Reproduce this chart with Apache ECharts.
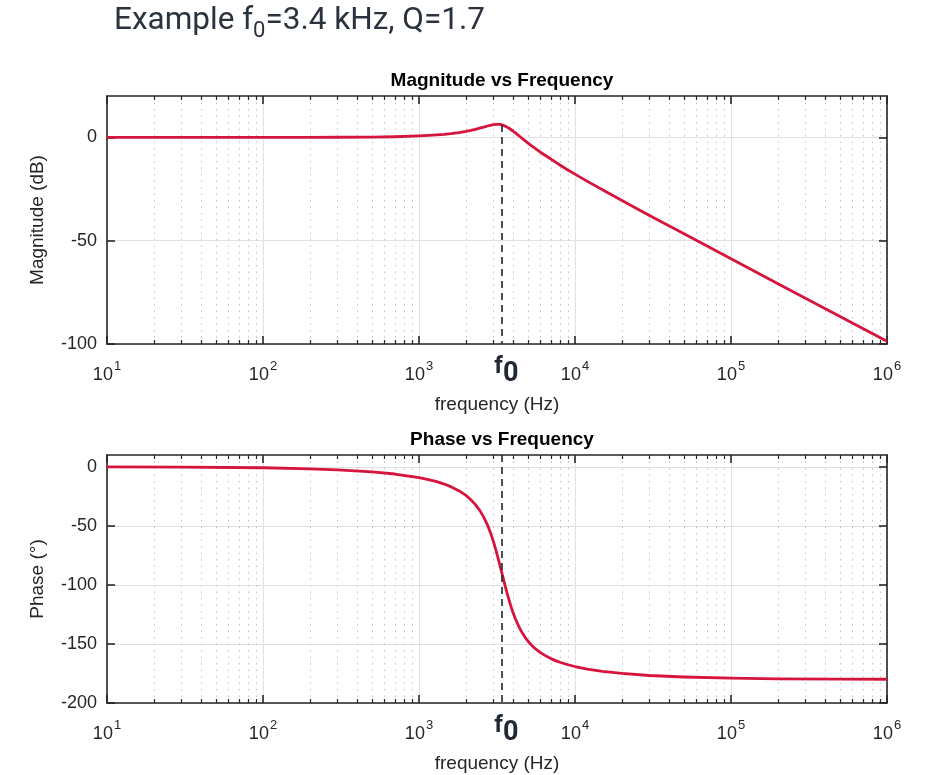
<!DOCTYPE html>
<html>
<head>
<meta charset="utf-8">
<style>
  html, body { margin: 0; padding: 0; background: #ffffff; }
  #chart { width: 927px; height: 775px; }
</style>
<script src="https://cdn.jsdelivr.net/npm/echarts@6/dist/echarts.min.js"></script>
</head>
<body>
<div id="chart"></div>
<script>
// Second-order low-pass response, resonance at f0
const f0 = 3400;

// Sample frequencies (Hz)
const freq = [10, 30, 100, 200, 300, 500, 700, 1000, 1150, 1300, 1450, 1600, 1800, 2000, 2150, 2300, 2450, 2600, 2750, 2900, 3000, 3100, 3200, 3300,
  3400, 3500, 3600, 3700, 3800, 3900, 4000, 4150, 4300, 4450, 4600, 4800, 5000, 5250, 5500, 5750, 6000, 6500, 7000, 7500, 8000, 9000, 10000, 12000, 15000, 20000,
  30000, 50000, 100000, 200000, 500000, 1000000];

// Magnitude (dB)
const magnitudeDb = [0.0, 0.0, 0.0, 0.02, 0.05, 0.14, 0.29, 0.68, 0.9, 1.16, 1.45, 1.79, 2.3, 2.89, 3.37, 3.89, 4.43, 4.97, 5.48, 5.92, 6.13, 6.26, 6.3, 6.22,
  6.02, 5.71, 5.3, 4.82, 4.27, 3.69, 3.07, 2.14, 1.19, 0.29, -0.59, -1.7, -2.77, -4.0, -5.14, -6.2, -7.2, -8.9, -10.5, -12.0, -13.4, -15.8, -17.8, -21.3, -25.4, -30.6,
  -37.8, -46.7, -58.7, -70.8, -86.7, -98.7];

// Phase (degrees)
const phaseDeg = [-0.1, -0.3, -0.8, -1.7, -2.6, -4.3, -6.1, -9.1, -10.8, -12.6, -14.6, -16.8, -20.2, -24.2, -27.9, -32.0, -36.9, -42.6, -49.3, -57.4, -63.4, -69.7, -76.4, -83.2,
  -90.0, -96.6, -102.9, -108.7, -114.0, -118.8, -123.1, -128.7, -133.5, -137.5, -140.8, -144.6, -147.7, -150.8, -153.4, -155.5, -157.3, -160.1, -162.4, -164.1, -165.5, -167.6, -169.1, -171.3, -173.2, -175.0,
  -176.7, -178.0, -179.0, -179.5, -179.8, -179.9];

// Axis ticks
const decadeTicks = [10, 100, 1000, 10000, 100000, 1000000];
const minorTicks = [];
for (let d = 10; d < 1000000; d *= 10) {
  for (let k = 2; k <= 9; k++) minorTicks.push(d * k);
}
const magTicks = [-100, -50, 0];
const phaseTicks = [-200, -150, -100, -50, 0];

const FONT = 'Liberation Sans';
const INK = '#262626';
const RED = '#d7143c';
const MARK = '#1f2833';

const grids = [
  { left: 107, top: 96, width: 780, height: 248 },
  { left: 107, top: 455, width: 780, height: 248 }
];

function xLabel(v) {
  if (v === f0) return '{f|f}{fs|0}';
  const e = Math.round(Math.log10(v));
  return '{b|10}{sup|' + e + '}';
}

function xAxesFor(gi) {
  const base = { type: 'log', logBase: 10, min: 10, max: 1000000, gridIndex: gi };
  return [
    Object.assign({}, base, {
      position: 'bottom',
      name: 'frequency (Hz)', nameLocation: 'middle', nameGap: 51,
      nameTextStyle: { fontFamily: FONT, fontSize: 19, color: INK },
      axisLine: { show: true, onZero: false, lineStyle: { color: INK, width: 1.6 } },
      axisTick: { show: true, inside: true, length: 8, customValues: decadeTicks, lineStyle: { color: INK, width: 1.6 } },
      axisLabel: {
        show: true, margin: 16, customValues: decadeTicks.concat([f0]), formatter: xLabel,
        rich: {
          b: { fontFamily: FONT, fontSize: 18, color: INK, lineHeight: 24, verticalAlign: 'bottom' },
          sup: { fontFamily: FONT, fontSize: 13, color: INK, lineHeight: 13, padding: [0, 0, 0, 1], verticalAlign: 'top' },
          f: { fontFamily: 'Roboto', fontWeight: 'bold', fontSize: 24, color: MARK, lineHeight: 28, padding: [0, 0, 9.5, 9], verticalAlign: 'bottom' },
          fs: { fontFamily: 'Roboto', fontWeight: 'bold', fontSize: 27, color: MARK, lineHeight: 28, verticalAlign: 'bottom' }
        }
      },
      splitLine: { show: true, lineStyle: { color: '#e1e1e1', width: 1 } }
    }),
    Object.assign({}, base, {
      position: 'bottom',
      axisLine: { show: false, onZero: false },
      axisTick: { show: true, inside: true, length: 4, customValues: minorTicks, lineStyle: { color: INK, width: 1.2 } },
      axisLabel: { show: false },
      splitLine: { show: true, lineStyle: { color: '#c4c4c4', width: 1, type: [1.5, 5] } }
    }),
    Object.assign({}, base, {
      position: 'top',
      axisLine: { show: true, onZero: false, lineStyle: { color: INK, width: 1.6 } },
      axisTick: { show: true, inside: true, length: 8, customValues: decadeTicks, lineStyle: { color: INK, width: 1.6 } },
      axisLabel: { show: false },
      splitLine: { show: false }
    }),
    Object.assign({}, base, {
      position: 'top',
      axisLine: { show: false, onZero: false },
      axisTick: { show: true, inside: true, length: 4, customValues: minorTicks, lineStyle: { color: INK, width: 1.2 } },
      axisLabel: { show: false },
      splitLine: { show: false }
    })
  ];
}

function yAxesFor(gi, min, max, ticks, name) {
  return [
    {
      type: 'value', gridIndex: gi, min: min, max: max, position: 'left',
      name: name, nameLocation: 'middle', nameGap: 60,
      nameTextStyle: { fontFamily: FONT, fontSize: 19, color: INK },
      axisLine: { show: true, onZero: false, lineStyle: { color: INK, width: 1.6 } },
      axisTick: { show: true, inside: true, length: 8, customValues: ticks, lineStyle: { color: INK, width: 1.6 } },
      axisLabel: { show: true, customValues: ticks, margin: 10, fontFamily: FONT, fontSize: 18, color: INK },
      splitLine: { show: true, lineStyle: { color: '#e1e1e1', width: 1 } }
    },
    {
      type: 'value', gridIndex: gi, min: min, max: max, position: 'right',
      axisLine: { show: true, onZero: false, lineStyle: { color: INK, width: 1.6 } },
      axisTick: { show: true, inside: true, length: 8, customValues: ticks, lineStyle: { color: INK, width: 1.6 } },
      axisLabel: { show: false },
      splitLine: { show: false }
    }
  ];
}

const magData = freq.map((f, i) => [f, magnitudeDb[i]]);
const phaseData = freq.map((f, i) => [f, phaseDeg[i]]);
const magAtF0 = magnitudeDb[freq.indexOf(f0)];

const markStyle = {
  silent: true, symbol: ['none', 'none'], label: { show: false },
  lineStyle: { color: MARK, type: [7, 5], width: 1.6 },
  emphasis: { disabled: true }
};

const option = {
  animation: false,
  backgroundColor: '#ffffff',
  title: [
    {
      text: '{a|Example f}{s|0}{a|=3.4 kHz, Q=1.7}',
      left: 109, top: 0,
      textStyle: {
        rich: {
          a: { fontFamily: 'Roboto', fontWeight: 'normal', fontSize: 31.5, color: '#2a323d', lineHeight: 36, verticalAlign: 'top' },
          s: { fontFamily: 'Roboto', fontWeight: 'normal', fontSize: 22, color: '#2a323d', lineHeight: 37, verticalAlign: 'bottom' }
        }
      }
    },
    {
      text: 'Magnitude vs Frequency', left: 497, top: 66, textAlign: 'center',
      textStyle: { fontFamily: FONT, fontWeight: 'bold', fontSize: 19, color: '#000000' }
    },
    {
      text: 'Phase vs Frequency', left: 497, top: 425, textAlign: 'center',
      textStyle: { fontFamily: FONT, fontWeight: 'bold', fontSize: 19, color: '#000000' }
    }
  ],
  grid: grids,
  xAxis: xAxesFor(0).concat(xAxesFor(1)),
  yAxis: yAxesFor(0, -100, 20, magTicks, 'Magnitude (dB)').concat(yAxesFor(1, -200, 10, phaseTicks, 'Phase (°)')),
  series: [
    {
      type: 'line', name: 'Magnitude', xAxisIndex: 0, yAxisIndex: 0,
      data: magData, showSymbol: false, smooth: false,
      lineStyle: { color: RED, width: 2.8, join: 'round' }, itemStyle: { color: RED },
      markLine: Object.assign({}, markStyle, { data: [[{ coord: [f0, magAtF0] }, { coord: [f0, -100] }]] })
    },
    {
      type: 'line', name: 'Phase', xAxisIndex: 4, yAxisIndex: 2,
      data: phaseData, showSymbol: false, smooth: false,
      lineStyle: { color: RED, width: 2.8, join: 'round' }, itemStyle: { color: RED },
      markLine: Object.assign({}, markStyle, { data: [[{ coord: [f0, 10] }, { coord: [f0, -200] }]] })
    }
  ]
};

const chart = echarts.init(document.getElementById('chart'), null, { renderer: 'canvas' });
chart.setOption(option);
</script>
</body>
</html>
